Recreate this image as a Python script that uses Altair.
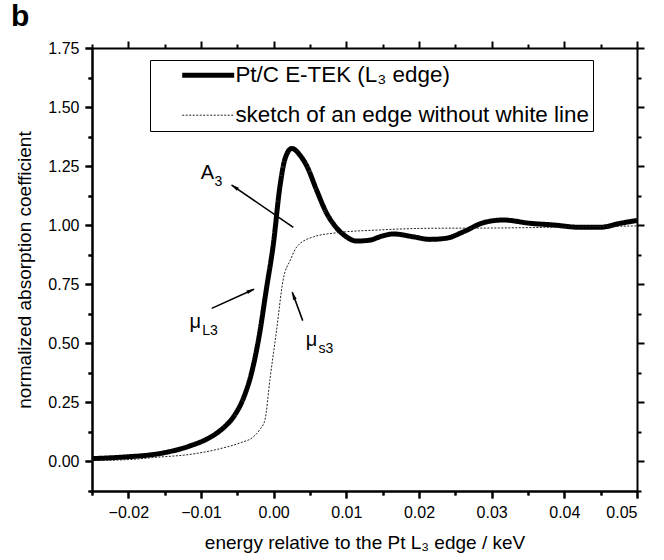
import math
import altair as alt
import pandas as pd

FONT = "Liberation Sans"

# ---- data ----
series_names = ["Pt/C E-TEK (L\u2083 edge)", "sketch of an edge without white line"]

x_thick = [-0.025, -0.0205, -0.0156, -0.0115, -0.0090, -0.0070, -0.0055, -0.0042,
           -0.0030, -0.0020, -0.0010, 0.0000, 0.0008, 0.0016,
           0.0025, 0.0036, 0.0046, 0.0059, 0.0073, 0.0087, 0.0100, 0.0114, 0.0133,
           0.0146, 0.0165, 0.0192, 0.0215, 0.0238, 0.0261, 0.0289, 0.0316, 0.0353,
           0.0385, 0.0422, 0.0449, 0.0477, 0.0500]
y_thick = [0.012, 0.019, 0.034, 0.066, 0.098, 0.140, 0.190, 0.265,
           0.380, 0.530, 0.730, 0.930, 1.150, 1.285,
           1.325, 1.297, 1.248, 1.149, 1.050, 0.987, 0.951, 0.933, 0.937,
           0.951, 0.963, 0.951, 0.940, 0.945, 0.972, 1.011, 1.022, 1.008,
           1.001, 0.991, 0.991, 1.008, 1.020]

x_sketch = [-0.025, -0.020, -0.016, -0.0115, -0.0070, -0.0045, -0.0028, -0.0019,
            -0.0012, -0.0005, 0.0004, 0.0013, 0.0023, 0.0032, 0.0055, 0.0087,
            0.0146, 0.0215, 0.0300, 0.0400, 0.0500]
y_sketch = [0.004, 0.008, 0.018, 0.030, 0.057, 0.080, 0.104, 0.135,
            0.176, 0.350, 0.556, 0.768, 0.853, 0.909, 0.951, 0.968,
            0.980, 0.987, 0.988, 0.992, 0.997]

# tick positions: major every 0.01 / 0.25, minor half-way
x_ticks = [-0.025, -0.02, -0.015, -0.01, -0.005, 0.0, 0.005, 0.01, 0.015, 0.02,
           0.025, 0.03, 0.035, 0.04, 0.045, 0.05]
y_ticks = [-0.125, 0.0, 0.125, 0.25, 0.375, 0.5, 0.625, 0.75, 0.875, 1.0,
           1.125, 1.25, 1.375, 1.5, 1.625, 1.75]

# annotations (data coordinates)
ann_main = ["A", "\u03bc", "\u03bc"]
ann_sub = ["3", "L3", "s3"]
ann_x = [-0.0091, -0.0108, 0.0052]
ann_y = [1.221, 0.592, 0.516]

arrow_x_tail = [0.0027, -0.00853, 0.0040]
arrow_y_tail = [0.991, 0.648, 0.596]
arrow_x_head = [-0.00578, -0.00271, 0.00256]
arrow_y_head = [1.170, 0.729, 0.716]

# ---- layout ----
W, H = 545, 443
X_DOM = [-0.025, 0.05]
Y_DOM = [-0.125, 1.75]
xs = alt.Scale(domain=X_DOM, nice=False, zero=False)
ys = alt.Scale(domain=Y_DOM, nice=False, zero=False)

lines = pd.concat([
    pd.DataFrame({"x": x_thick, "y": y_thick, "series": series_names[0], "k": 0}),
    pd.DataFrame({"x": x_sketch, "y": y_sketch, "series": series_names[1], "k": 1}),
], ignore_index=True)

sx = W / (X_DOM[1] - X_DOM[0])
sy = H / (Y_DOM[1] - Y_DOM[0])
angles = []
for xt, yt, xh, yh in zip(arrow_x_tail, arrow_y_tail, arrow_x_head, arrow_y_head):
    dx = (xh - xt) * sx
    dy = -(yh - yt) * sy
    angles.append(math.degrees(math.atan2(dx, -dy)) % 360)
arrows = pd.DataFrame({"x": arrow_x_tail, "y": arrow_y_tail,
                       "x2": arrow_x_head, "y2": arrow_y_head, "angle": angles})
anns = pd.DataFrame({"x": ann_x, "y": ann_y, "main": ann_main, "sub": ann_sub})

X_MAJOR = "abs(datum.value*100 - round(datum.value*100)) < 0.01"
Y_MAJOR = "abs(datum.value*4 - round(datum.value*4)) < 0.01"


def tick_axis(orient, values, test):
    return alt.Axis(orient=orient, values=values,
                    tickSize={"condition": {"test": test, "value": 7}, "value": 4},
                    ticks=True, tickWidth=2, tickColor="black", domain=True, domainWidth=2,
                    domainColor="black", grid=False, labels=False, title="")


def label_axis(orient, values, test, title):
    return alt.Axis(orient=orient, values=values,
                    tickSize={"condition": {"test": test, "value": 7}, "value": 4},
                    ticks=True, tickWidth=2, tickColor="black",
                    domain=True, domainWidth=2, domainColor="black", grid=False,
                    labelExpr=f"({test}) ? format(datum.value, '.2f') : ''",
                    labelFont=FONT, labelFontSize=16, labelColor="black", labelPadding=6,
                    title=title, titleFont=FONT, titleFontSize=19, titleFontWeight="normal",
                    titleColor="black", titlePadding=13)


leg = alt.Legend(
    title="", orient="none", legendX=58, legendY=12,
    strokeColor="black", fillColor="white", padding=4,
    labelFont=FONT, labelFontSize=22.4, labelColor="black",
    symbolType="M-3.25,0H3.25", symbolSize=256, symbolOffset=43, labelOffset=16,
    symbolFillColor="transparent", rowPadding=17, labelLimit=500,
)

main = alt.Chart(lines).mark_line(interpolate="monotone").encode(
    x=alt.X("x:Q", scale=xs, axis=label_axis("bottom", x_ticks, X_MAJOR,
                                              "energy relative to the Pt L\u2083 edge / keV")),
    y=alt.Y("y:Q", scale=ys, axis=label_axis("left", y_ticks, Y_MAJOR,
                                              "normalized absorption coefficient")),
    color=alt.Color("series:N", scale=alt.Scale(domain=series_names, range=["black", "#222222"]),
                    legend=leg),
    strokeDash=alt.StrokeDash("series:N", scale=alt.Scale(domain=series_names,
                                                          range=[[1, 0], [2, 1.5]]), legend=leg),
    strokeWidth=alt.StrokeWidth("series:N", scale=alt.Scale(domain=series_names, range=[5, 1]),
                                legend=leg),
    order=alt.Order("k:Q"),
)

ticks_bl = alt.Chart(lines).mark_point(opacity=0).encode(
    x=alt.X("x:Q", scale=xs, axis=tick_axis("bottom", x_ticks, X_MAJOR)),
    y=alt.Y("y:Q", scale=ys, axis=tick_axis("left", y_ticks, Y_MAJOR)))

mirror = alt.Chart(lines).mark_point(opacity=0).encode(
    x=alt.X("x:Q", scale=xs, axis=tick_axis("top", x_ticks, X_MAJOR)),
    y=alt.Y("y:Q", scale=ys, axis=tick_axis("right", y_ticks, Y_MAJOR)))

arrow_lines = alt.Chart(arrows).mark_rule(color="black", strokeWidth=1.6).encode(
    x=alt.X("x:Q", scale=xs, axis=None), y=alt.Y("y:Q", scale=ys, axis=None),
    x2="x2:Q", y2="y2:Q")
arrow_heads = alt.Chart(arrows).mark_point(
    shape="M0,-0.2L0.38,1.5L-0.38,1.5Z", filled=True, color="black", opacity=1, size=100
).encode(x=alt.X("x2:Q", scale=xs, axis=None), y=alt.Y("y2:Q", scale=ys, axis=None),
         angle=alt.Angle("angle:Q", scale=None))

ann_text = alt.Chart(anns).mark_text(font=FONT, fontSize=20, color="black",
                                     align="center", baseline="middle").encode(
    x=alt.X("x:Q", scale=xs, axis=None), y=alt.Y("y:Q", scale=ys, axis=None), text="main:N")
ann_subt = alt.Chart(anns).mark_text(font=FONT, fontSize=14, color="black",
                                     align="left", baseline="middle", dx=7, dy=9).encode(
    x=alt.X("x:Q", scale=xs, axis=None), y=alt.Y("y:Q", scale=ys, axis=None), text="sub:N")

panel = alt.Chart(pd.DataFrame({"t": ["b"]})).mark_text(
    font=FONT, fontSize=30, fontWeight="bold", color="black", align="left", baseline="top"
).encode(text="t:N", x=alt.value(-81), y=alt.value(-46))

chart = alt.layer(main, ticks_bl, mirror, arrow_lines, arrow_heads, ann_text, ann_subt,
                  panel).resolve_axis(
    x="independent", y="independent"
).properties(
    width=W, height=H,
    autosize=alt.AutoSizeParams(type="none"),
    padding={"left": 92, "top": 48, "right": 27, "bottom": 69},
    background="white",
).configure_view(stroke="transparent")

chart.save("out.html", embed_options={"renderer": "svg", "actions": False})
